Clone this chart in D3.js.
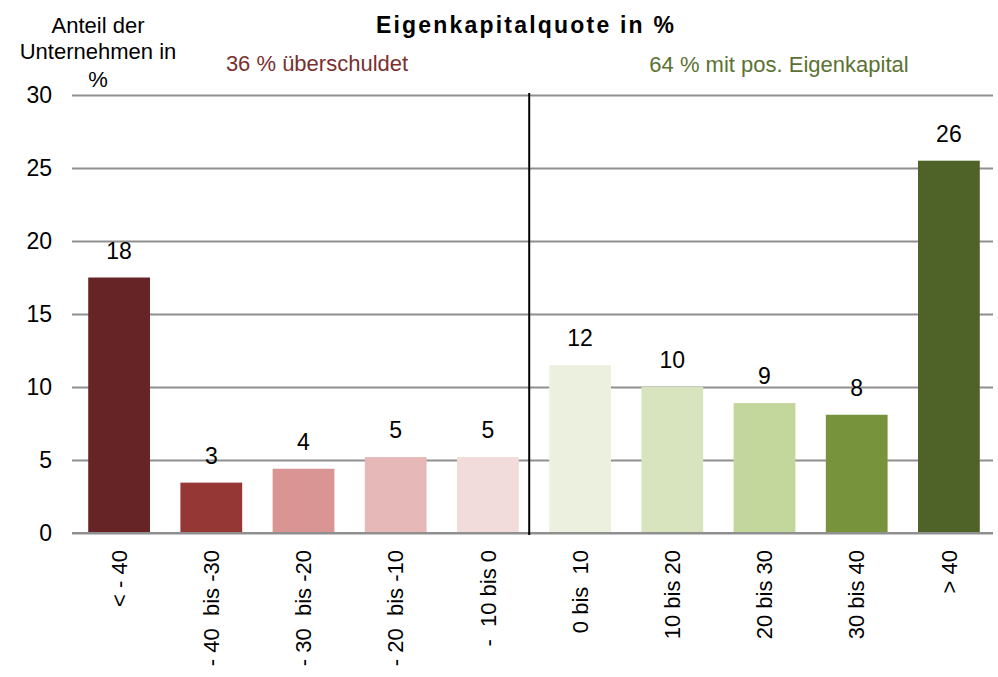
<!DOCTYPE html>
<html><head><meta charset="utf-8">
<script src="https://cdn.jsdelivr.net/npm/d3@7"></script>
<style>
html,body{margin:0;padding:0;background:#fff;}
svg text{font-family:"Liberation Sans",Arial,sans-serif;}
</style></head>
<body>
<svg id="chart" width="998" height="677"></svg>
<script>
const categories = ["< - 40", "- 40  bis -30", "- 30  bis -20", "- 20  bis -10", "-  10 bis 0", "0 bis  10", "10 bis 20", "20 bis 30", "30 bis 40", "> 40"];
const values = [17.5, 3.45, 4.4, 5.2, 5.2, 11.5, 10.0, 8.9, 8.1, 25.5];
const colors = ["#662426", "#953735", "#d99594", "#e6b9b8", "#f2dcdb", "#ebf1de", "#d7e4bd", "#c3d69b", "#77933c", "#4f6228"];
const yTicks = [0, 5, 10, 15, 20, 25, 30];
const title = "Eigenkapitalquote in %";
const yTitle = ["Anteil der", "Unternehmen in", "%"];
const leftNote = "36 % überschuldet";
const rightNote = "64 % mit pos. Eigenkapital";

const svg = d3.select("#chart");
const x = d3.scaleBand().domain(categories).range([73, 995]).paddingInner(0.33).paddingOuter(0.165);
const y = d3.scaleLinear().domain([0, 30]).range([533, 95]);

// gridlines
const yAxis = d3.axisLeft(y).tickValues(yTicks).tickSize(-(993 - 72)).tickFormat(d3.format("d"));
const gy = svg.append("g").attr("transform", "translate(72,0)").call(yAxis);
gy.select(".domain").remove();
gy.selectAll(".tick line").attr("stroke", "#8f8f8f").attr("stroke-width", 2);
gy.selectAll(".tick text").attr("x", -20).attr("font-size", 23).attr("fill", "#000");

// bars
svg.append("g").selectAll("rect").data(values).join("rect")
  .attr("x", (d, i) => x(categories[i]))
  .attr("width", x.bandwidth())
  .attr("y", d => y(d))
  .attr("height", d => y(0) - y(d))
  .attr("fill", (d, i) => colors[i]);

// baseline
svg.append("line").attr("x1", 72).attr("x2", 993).attr("y1", y(0)).attr("y2", y(0))
  .attr("stroke", "#8f8f8f").attr("stroke-width", 2);

// value labels
svg.append("g").selectAll("text").data(values).join("text")
  .attr("x", (d, i) => x(categories[i]) + x.bandwidth() / 2)
  .attr("y", d => y(d) - 19)
  .attr("text-anchor", "middle")
  .attr("font-size", 23)
  .text(d => d3.format(".0f")(d));

// divider
const divX = x(categories[5]) - 20;
svg.append("line").attr("x1", divX).attr("x2", divX).attr("y1", y(30) - 2).attr("y2", y(0) + 2)
  .attr("stroke", "#000").attr("stroke-width", 2);

// x labels
const xAxis = d3.axisBottom(x).tickSize(0);
const gx = svg.append("g").attr("transform", `translate(0,${y(0)})`).call(xAxis);
gx.select(".domain").remove();
gx.selectAll(".tick text")
  .attr("transform", "rotate(-90)")
  .attr("x", -17).attr("y", 0).attr("dy", "0.35em")
  .attr("text-anchor", "end")
  .attr("font-size", 22).attr("fill", "#000")
  .style("white-space", "pre");

// title
svg.append("text").attr("x", 526).attr("y", 33).attr("text-anchor", "middle")
  .attr("font-size", 23).attr("font-weight", "bold").attr("letter-spacing", "2.2px").text(title);

// y title
svg.append("g").selectAll("text").data(yTitle).join("text")
  .attr("x", 98).attr("y", (d, i) => [33, 59, 87][i])
  .attr("text-anchor", "middle").attr("font-size", 22).style("white-space", "pre").text(d => d);

svg.append("text").attr("x", 317).attr("y", 71).attr("text-anchor", "middle")
  .attr("font-size", 22).attr("fill", "#79302f").text(leftNote);
svg.append("text").attr("x", 779).attr("y", 72).attr("text-anchor", "middle")
  .attr("font-size", 22).attr("fill", "#5b7232").text(rightNote);
</script>
</body></html>
